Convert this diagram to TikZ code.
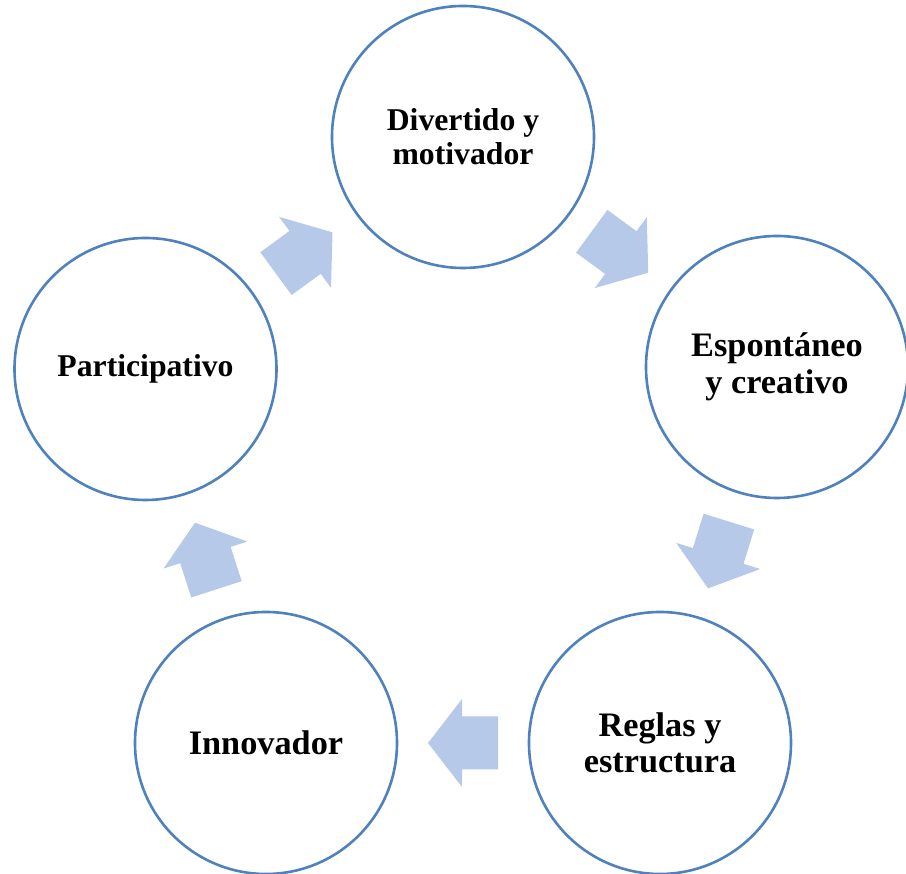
\documentclass[tikz,border=0pt]{standalone}
\usepackage{fontspec}
\setmainfont{Liberation Serif}
\usetikzlibrary{calc}
\definecolor{ringblue}{RGB}{79,129,189}
\definecolor{arrowblue}{RGB}{182,201,232}
\tikzset{
  stage/.style={circle, draw=ringblue, line width=2.6pt, fill=white,
    minimum size=262pt, inner sep=0pt, align=center, text=black},
  bigtxt/.style={font=\fontsize{34.3}{36.5}\selectfont\bfseries},
  smalltxt/.style={font=\fontsize{31.7}{34}\selectfont\bfseries},
  arrowfill/.style={fill=arrowblue}
}
\newcommand\cyclearrow[2]{%
  \fill[arrowfill] let \p1=($(#2)-(#1)$), \n1={atan2(\y1,\x1)}, \p2=($(#1)!0.5!(#2)$) in
   ($(\p2)+(\n1:35)$)
   -- ($(\p2)+(\n1:1)+(\n1+90:44)$)
   -- ($(\p2)+(\n1:1)+(\n1+90:26.5)$)
   -- ($(\p2)+(\n1+180:35)+(\n1+90:26.5)$)
   -- ($(\p2)+(\n1+180:35)+(\n1-90:26.5)$)
   -- ($(\p2)+(\n1:1)+(\n1-90:26.5)$)
   -- ($(\p2)+(\n1:1)+(\n1-90:44)$)
   -- cycle;}
\begin{document}
\begin{tikzpicture}[x=1pt,y=1pt]
\useasboundingbox (0,0) rectangle (906,874);
\node[stage, smalltxt] (T)  at (463,737)   {Divertido y\\motivador};
\node[stage, bigtxt]   (R)  at (777,507)   {Espontáneo\\y creativo};
\node[stage, bigtxt]   (BR) at (660,131)   {Reglas y\\estructura};
\node[stage, bigtxt]   (BL) at (266,131)   {Innovador};
\node[stage, smalltxt] (L)  at (145.5,505) {Participativo};
\cyclearrow{T}{R}
\cyclearrow{R}{BR}
\cyclearrow{BR}{BL}
\cyclearrow{BL}{L}
\cyclearrow{L}{T}
\end{tikzpicture}
\end{document}
